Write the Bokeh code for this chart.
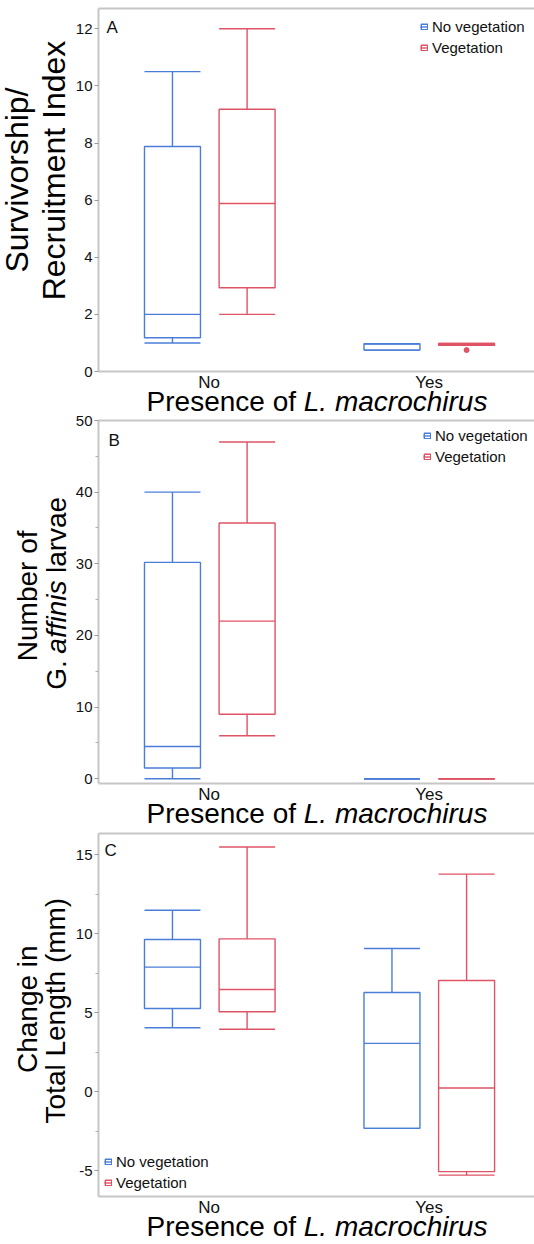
from math import pi
from bokeh.plotting import figure
from bokeh.layouts import column, row
from bokeh.models import (Range1d, FixedTicker, Label, Legend, LegendItem,
                          ColumnDataSource, LinearAxis)
from bokeh.core.properties import value
from bokeh.embed import file_html
from bokeh.resources import INLINE

# ---------------- data ----------------
categories = ["No", "Yes"]
groups = ["No vegetation", "Vegetation"]
group_colors = ["#4A7DD8", "#DE5465"]

# five-number summaries per category: [low whisker, Q1, median, Q3, high whisker]
a_noveg = [[1.0, 1.18, 2.0, 7.88, 10.5], [0.75, 0.75, 0.97, 0.97, 0.97]]
a_veg = [[2.0, 2.93, 5.88, 9.18, 12.0], [0.92, 0.92, 0.95, 0.98, 0.98]]
a_out_cat = ["Yes"]
a_out_group = ["Vegetation"]
a_out_val = [0.75]
a_ticks = [0, 2, 4, 6, 8, 10, 12]
a_tick_labels = ["0", "2", "4", "6", "8", "10", "12"]
a_minor = []

b_noveg = [[0.0, 1.5, 4.5, 30.2, 40.0], [0.0, 0.0, 0.0, 0.0, 0.0]]
b_veg = [[6.0, 9.0, 22.0, 35.7, 47.0], [0.0, 0.0, 0.0, 0.0, 0.0]]
b_ticks = [0, 10, 20, 30, 40, 50]
b_tick_labels = ["0", "10", "20", "30", "40", "50"]
b_minor = [5, 15, 25, 35, 45]

c_noveg = [[4.05, 5.27, 7.88, 9.63, 11.48], [-2.31, -2.31, 3.06, 6.28, 9.06]]
c_veg = [[3.95, 5.06, 6.47, 9.67, 15.48], [-5.27, -5.05, 0.24, 7.04, 13.76]]
c_ticks = [-5, 0, 5, 10, 15]
c_tick_labels = ["-5", "0", "5", "10", "15"]
c_minor = [-2.5, 2.5, 7.5, 12.5]

# ---------------- layout constants ----------------
FONT = "Liberation Sans"
TOTAL_W = 534
YL_W = 72                 # strip holding the rotated axis title
AX_W = 25                 # room for y tick labels
FRAME_LEFT = YL_W + AX_W  # 97
MAIN_W = TOTAL_W - YL_W
FRAME_H = 363
BOTTOM_AX = 10            # room for the lowest y tick label
OVERLAP = 8               # strips slide under neighbouring transparent borders
PX_PER_CAT = 220.0
X_START = -0.007
X_END = X_START + (TOTAL_W - FRAME_LEFT) / PX_PER_CAT
GROUP_OFF = [-0.17, 0.17]
BOX_W = 0.255
FRAME_COLOR = "#C6C6C6"
TEXT_COLOR = "#111111"
BASE_FIX = 0.35           # anchor-to-baseline offset seen in the rendered text
XL_SIZE = 28


def px_x(px):
    return X_START + (px - FRAME_LEFT) / PX_PER_CAT


def blank(width, height, left=0, x_range=None):
    return figure(width=width, height=height,
                  x_range=x_range if x_range is not None else Range1d(0, width),
                  y_range=Range1d(height, 0), x_axis_type=None, y_axis_type=None,
                  output_backend="svg", toolbar_location=None, title=None,
                  min_border=0, min_border_left=left, outline_line_color=None,
                  background_fill_alpha=0, border_fill_alpha=0)


def make_main(border_top, frame_top_page, yr, ticks, tick_labels, minor, sets,
              letter, letter_pos, legend_loc, outliers=None):
    y0, y1 = yr
    height = border_top + FRAME_H + BOTTOM_AX
    frame_bottom = frame_top_page + FRAME_H

    def py_y(py):
        return y0 + (frame_bottom - py) / FRAME_H * (y1 - y0)

    p = figure(width=MAIN_W, height=height, x_range=Range1d(X_START, X_END),
               y_range=Range1d(y0, y1), output_backend="svg", toolbar_location=None,
               title=None, min_border=0, min_border_left=AX_W,
               min_border_top=border_top, min_border_bottom=BOTTOM_AX,
               background_fill_color="white", border_fill_alpha=0)
    p.grid.visible = False
    p.outline_line_color = None

    # x axis line (category labels are drawn in the strip below)
    xa = p.below[0]
    xa.ticker = FixedTicker(ticks=[])
    xa.major_tick_line_color = None
    xa.minor_tick_line_color = None
    xa.major_tick_out = 0
    xa.minor_tick_out = 0
    xa.major_label_standoff = 0
    xa.axis_line_color = FRAME_COLOR
    xa.axis_line_width = 2

    # y axis
    ya = p.left[0]
    ya.ticker = FixedTicker(ticks=ticks, minor_ticks=minor)
    ya.major_label_overrides = {t: l for t, l in zip(ticks, tick_labels)}
    ya.axis_line_color = FRAME_COLOR
    ya.axis_line_width = 2
    ya.major_tick_line_color = "#9A9A9A"
    ya.minor_tick_line_color = "#B0B0B0"
    ya.major_tick_in = 0
    ya.major_tick_out = 4
    ya.minor_tick_in = 0
    ya.minor_tick_out = 3
    ya.major_label_text_font = FONT
    ya.major_label_text_font_size = "15px"
    ya.major_label_text_color = TEXT_COLOR
    ya.major_label_standoff = 2

    # top border drawn as a bare axis line
    top = LinearAxis(ticker=FixedTicker(ticks=[]), axis_line_color=FRAME_COLOR,
                     axis_line_width=2, major_tick_line_color=None,
                     minor_tick_line_color=None, major_label_text_font_size="0px",
                     major_label_standoff=0, major_tick_out=0, major_tick_in=0,
                     minor_tick_out=0, minor_tick_in=0)
    p.add_layout(top, "above")

    legend_items = []
    for gi, (g, stats, color) in enumerate(zip(groups, sets, group_colors)):
        xs = [ci + 0.5 + GROUP_OFF[gi] for ci in range(len(categories))]
        src = ColumnDataSource(dict(
            x=xs,
            left=[x - BOX_W / 2 for x in xs],
            right=[x + BOX_W / 2 for x in xs],
            low=[s[0] for s in stats], q1=[s[1] for s in stats],
            med=[s[2] for s in stats], q3=[s[3] for s in stats],
            high=[s[4] for s in stats]))
        kw = dict(source=src, line_color=color, line_width=1.4)
        box = p.quad(left="left", right="right", bottom="q1", top="q3",
                     fill_color=None, **kw)
        whisk = p.segment(x0="x", x1="x", y0="q3", y1="high", **kw)
        p.segment(x0="x", x1="x", y0="low", y1="q1", **kw)
        p.segment(x0="left", x1="right", y0="med", y1="med", **kw)
        p.segment(x0="left", x1="right", y0="high", y1="high", **kw)
        p.segment(x0="left", x1="right", y0="low", y1="low", **kw)
        legend_items.append(LegendItem(label=g, renderers=[box, whisk]))

    if outliers:
        ocat, ogrp, oval = outliers
        ox = [categories.index(c) + 0.5 + GROUP_OFF[groups.index(g)]
              for c, g in zip(ocat, ogrp)]
        ocol = [group_colors[groups.index(g)] for g in ogrp]
        p.scatter(x=ox, y=oval, size=5, color=ocol)

    leg = Legend(items=legend_items, location=legend_loc, border_line_color=None,
                 background_fill_alpha=0, padding=0, margin=0, spacing=2,
                 label_standoff=4, glyph_width=8, glyph_height=7, label_height=19,
                 label_text_font=FONT, label_text_font_size="15px",
                 label_text_color=TEXT_COLOR)
    p.add_layout(leg)

    lx, ly = letter_pos
    p.add_layout(Label(x=px_x(lx), y=py_y(ly - BASE_FIX * 17), text=letter,
                       text_font=FONT, text_font_size="17px", text_color=TEXT_COLOR,
                       text_align="left", text_baseline="alphabetic"))
    return p


def make_ylabel(height, parts):
    f = blank(YL_W, height)
    for (txt, style, size, bx, cy, align) in parts:
        f.add_layout(Label(x=bx - BASE_FIX * size, y=cy, text=txt, text_font=FONT,
                           text_font_size=f"{size}px", text_font_style=style,
                           text_color="black", angle=pi / 2,
                           text_align=align, text_baseline="alphabetic"))
    return f


def make_xlabel(height, tick_base, title_base):
    f = blank(TOTAL_W, height, left=FRAME_LEFT, x_range=Range1d(X_START, X_END))
    f.margin = (-OVERLAP, 0, 0, 0)
    # category labels placed through the same category scale as the boxes
    f.text(x=[i + 0.5 for i in range(len(categories))],
           y=[tick_base - BASE_FIX * 17] * len(categories), text=categories,
           text_font=value(FONT), text_font_size="17px", text_color=TEXT_COLOR,
           text_align="center", text_baseline="alphabetic")
    y = title_base - BASE_FIX * XL_SIZE
    f.add_layout(Label(x=px_x(295.5), y=y, text="Presence of", text_font=FONT,
                       text_font_size=f"{XL_SIZE}px", text_color="black",
                       text_align="right", text_baseline="alphabetic"))
    f.add_layout(Label(x=px_x(303.3), y=y, text="L. macrochirus", text_font=FONT,
                       text_font_size=f"{XL_SIZE}px", text_font_style="italic",
                       text_color="black", text_align="left",
                       text_baseline="alphabetic"))
    return f


# ---- panel A (page top 0) ----
pA = make_main(8, 8, (0.0, 12.71), a_ticks, a_tick_labels, a_minor,
               [a_noveg, a_veg], "A", (105, 33), (322, 314),
               outliers=(a_out_cat, a_out_group, a_out_val))
hA = 8 + FRAME_H + BOTTOM_AX
ylA = make_ylabel(hA, [("Survivorship/", "normal", 32, 28, 180, "center"),
                       ("Recruitment Index", "normal", 32, 65, 170, "center")])
xlA = make_xlabel(45, 14.5, 37.5)

# ---- panel B (page top 410, slid up under the strip above) ----
B_TOP = 2 + OVERLAP
pB = make_main(B_TOP, 420, (-0.66, 50.0), b_ticks, b_tick_labels, b_minor,
               [b_noveg, b_veg], "B", (107, 446), (325, 317))
hB = B_TOP + FRAME_H + BOTTOM_AX
ylB = make_ylabel(hB, [("Number of", "normal", 28, 37, 177 + OVERLAP, "center"),
                       ("G.", "normal", 28, 66, 276 + OVERLAP, "left"),
                       ("affinis", "italic", 28, 66, 238 + OVERLAP, "left"),
                       ("larvae", "normal", 28, 66, 153 + OVERLAP, "left")])
rowB = row(ylB, pB)
rowB.margin = (-OVERLAP, 0, 0, 0)
xlB = make_xlabel(46, 14.5, 37.5)

# ---- panel C (page top 831) ----
pC = make_main(2, 833, (-6.62, 16.33), c_ticks, c_tick_labels, c_minor,
               [c_noveg, c_veg], "C", (103, 856), (6, 4))
hC = 2 + FRAME_H + BOTTOM_AX
ylC = make_ylabel(hC, [("Change in", "normal", 28, 37, 181.5, "center"),
                       ("Total Length (mm)", "normal", 28, 65, 183, "center")])
xlC = make_xlabel(44, 14.5, 38)

layout = column(row(ylA, pA), xlA, rowB, xlB, row(ylC, pC), xlC)
open("out.html", "w").write(file_html(layout, INLINE))
